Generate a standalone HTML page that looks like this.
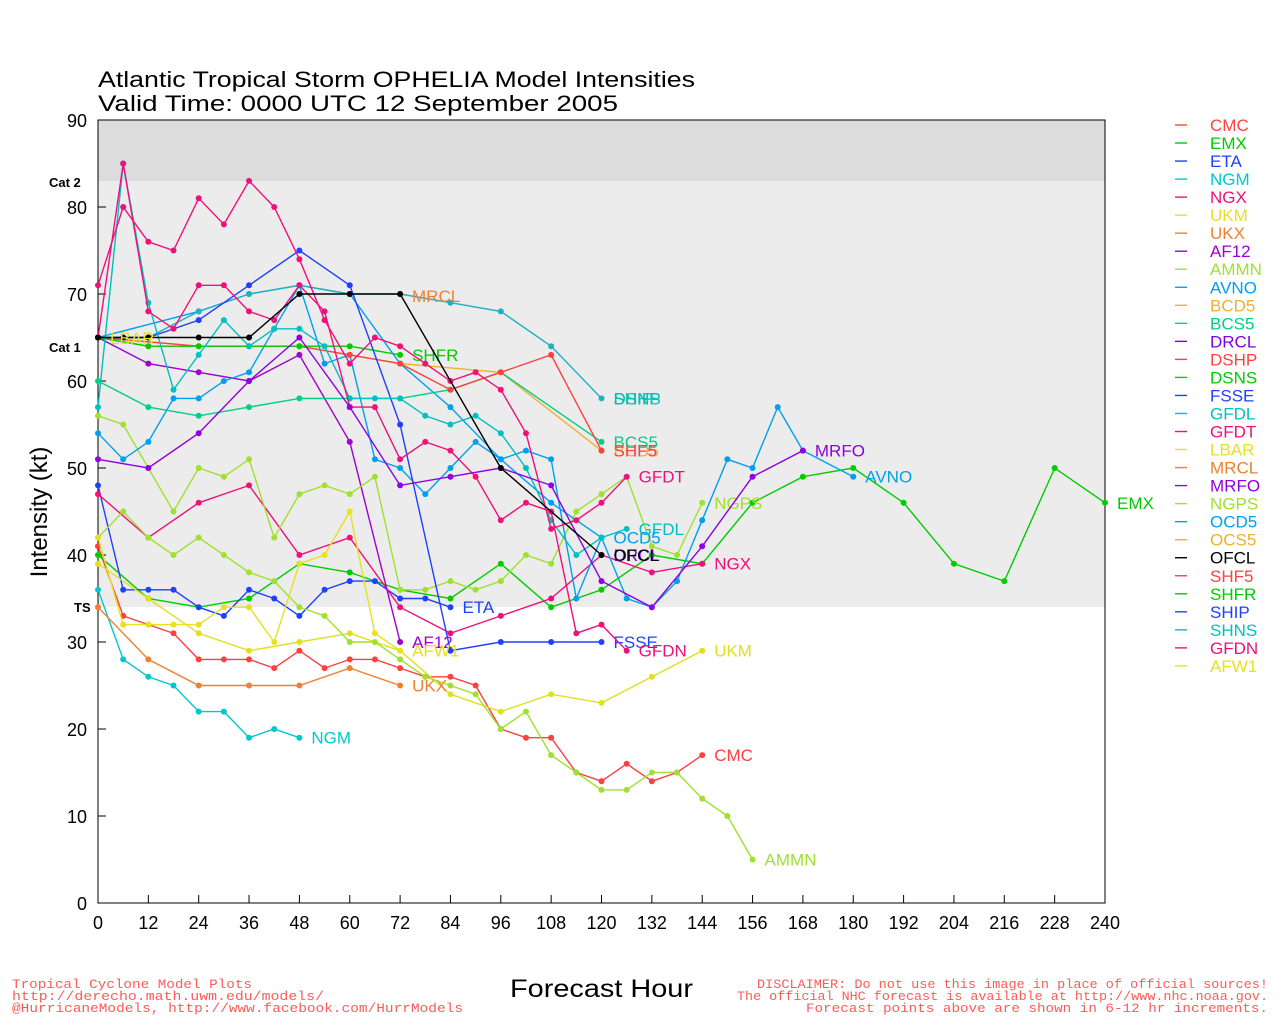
<!DOCTYPE html>
<html><head><meta charset="utf-8"><style>
html,body{margin:0;padding:0;background:#fff;width:1280px;height:1024px;overflow:hidden}
svg text{font-family:"Liberation Sans",sans-serif}
</style></head><body>
<svg id="s" width="1280" height="1024" xmlns="http://www.w3.org/2000/svg">
<rect x="98" y="120" width="1007" height="61" fill="#dcdcdc"/>
<rect x="98" y="181" width="1007" height="426" fill="#ececec"/>
<rect x="98" y="120" width="1007" height="783" fill="none" stroke="#000" stroke-width="1"/>
<text x="98" y="87" font-size="22" textLength="597" lengthAdjust="spacingAndGlyphs">Atlantic Tropical Storm OPHELIA Model Intensities</text>
<text x="98" y="111" font-size="22" textLength="520" lengthAdjust="spacingAndGlyphs">Valid Time: 0000 UTC 12 September 2005</text>
<text x="49" y="187" font-size="13" font-weight="bold">Cat 2</text>
<text x="49" y="352" font-size="13" font-weight="bold">Cat 1</text>
<text x="74" y="612" font-size="13" font-weight="bold">TS</text>
<text transform="translate(47,512) rotate(-90)" text-anchor="middle" font-size="24">Intensity (kt)</text>
<text x="510" y="997" font-size="25" textLength="183" lengthAdjust="spacingAndGlyphs">Forecast Hour</text>
<g fill="#ff5a5a" font-size="13">
<text x="12" y="988" style="font-family:'Liberation Mono',monospace" textLength="240" lengthAdjust="spacingAndGlyphs">Tropical Cyclone Model Plots</text>
<text x="12" y="1000" style="font-family:'Liberation Mono',monospace" textLength="312" lengthAdjust="spacingAndGlyphs">http://derecho.math.uwm.edu/models/</text>
<text x="12" y="1012" style="font-family:'Liberation Mono',monospace" textLength="451" lengthAdjust="spacingAndGlyphs">@HurricaneModels, http://www.facebook.com/HurrModels</text>
<text x="757" y="988" style="font-family:'Liberation Mono',monospace" textLength="511" lengthAdjust="spacingAndGlyphs">DISCLAIMER: Do not use this image in place of official sources!</text>
<text x="737" y="1000" style="font-family:'Liberation Mono',monospace" textLength="531" lengthAdjust="spacingAndGlyphs">The official NHC forecast is available at http://www.nhc.noaa.gov.</text>
<text x="806" y="1012" style="font-family:'Liberation Mono',monospace" textLength="462" lengthAdjust="spacingAndGlyphs">Forecast points above are shown in 6-12 hr increments.</text>
</g>
<g id="g"></g>
</svg>
<script>
var X=function(h){return 98+h*1007/240},Y=function(v){return 903-v*8.7};
var g=document.getElementById('g'),o='';
for(var v=0;v<=90;v+=10){o+='<line x1="98" x2="106" y1="'+Y(v)+'" y2="'+Y(v)+'" stroke="#000"/><text x="87" y="'+(Y(v)+7)+'" text-anchor="end" font-size="18">'+v+'</text>';}
for(var h=0;h<=240;h+=12){o+='<line x1="'+X(h)+'" x2="'+X(h)+'" y1="903" y2="895" stroke="#000"/><text x="'+X(h)+'" y="929" text-anchor="middle" font-size="18">'+h+'</text>';}
function S(c,d,lab,lh,lv){var p=[];for(var i=0;i<d.length;i+=2)p.push(X(d[i]).toFixed(1)+','+Y(d[i+1]).toFixed(1));
o+='<polyline points="'+p.join(' ')+'" fill="none" stroke="'+c+'" stroke-width="1.4"/>';
for(var i=0;i<d.length;i+=2)o+='<circle cx="'+X(d[i])+'" cy="'+Y(d[i+1])+'" r="3" fill="'+c+'"/>';
if(lab){var lx=lh===undefined?d[d.length-2]:lh,ly=lv===undefined?d[d.length-1]:lv;o+='<text x="'+(X(lx)+12)+'" y="'+(Y(ly)+6)+'" font-size="17" fill="'+c+'">'+lab+'</text>';}}
S('#ff4040',[0,41,6,33,12,32,18,31,24,28,30,28,36,28,42,27,48,29,54,27,60,28,66,28,72,27,78,26,84,26,90,25,96,20,102,19,108,19,114,15,120,14,126,16,132,14,138,15,144,17],'CMC');
S('#00cc00',[0,40,12,35,24,34,36,35,48,39,60,38,72,36,84,35,96,39,108,34,120,36,132,40,144,39,156,46,168,49,180,50,192,46,204,39,216,37,228,50,240,46],'EMX');
S('#2040ff',[0,48,6,36,12,36,18,36,24,34,30,33,36,36,42,35,48,33,54,36,60,37,66,37,72,35,78,35,84,34],'ETA');
S('#00c8d0',[0,36,6,28,12,26,18,25,24,22,30,22,36,19,42,20,48,19],'NGM');
S('#f0107a',[0,47,12,42,24,46,36,48,48,40,60,42,72,34,84,31,96,33,108,35,120,40,132,38,144,39],'NGX');
S('#e0e020',[0,39,12,35,24,31,36,29,48,30,60,31,72,29,84,24,96,22,108,24,120,23,132,26,144,29],'UKM');
S('#f08030',[0,34,12,28,24,25,36,25,48,25,60,27,72,25],'UKX');
S('#a000d0',[0,65,12,62,24,61,36,60,48,63,60,53,72,30],'AF12');
S('#a0e030',[0,42,6,45,12,42,18,40,24,42,30,40,36,38,42,37,48,34,54,33,60,30,66,30,72,28,78,26,84,25,90,24,96,20,102,22,108,17,114,15,120,13,126,13,132,15,138,15,144,12,150,10,156,5],'AMMN');
S('#a0e030',[0,56,6,55,12,50,18,45,24,50,30,49,36,51,42,42,48,47,54,48,60,47,66,49,72,36,78,36,84,37,90,36,96,37,102,40,108,39,114,45,120,47,126,49,132,41,138,40,144,46],'NGPS');
S('#00a0f0',[0,54,6,51,12,53,18,58,24,58,30,60,36,61,42,66,48,71,54,62,60,63,66,51,72,50,78,47,84,50,90,53,96,51,102,52,108,51,114,35,120,42,126,35,132,34,138,37,144,44,150,51,156,50,162,57,168,52,180,49],'AVNO');
S('#00a0f0',[0,65,24,68,36,70,48,71,60,70,72,62,84,57,96,51,108,46,120,42],'OCD5');
S('#f0b030',[0,65,12,64,36,64,48,64,60,63,72,62,96,61,120,52],'BCD5');
S('#00d080',[0,60,12,57,24,56,36,57,48,58,60,58,72,58,84,59,96,61,120,53],'BCS5');
S('#ff4040',[0,65,24,64,48,64,60,63,72,62,84,59,96,61,108,63,120,52],'SHF5');
S('#20b0c0',[0,65,12,65,24,68,36,70,48,71,60,70,72,70,84,69,96,68,108,64,120,58],'SHIP');
o+='<text x="'+(X(120)+12)+'" y="'+(Y(58)+6)+'" font-size="17" fill="#00c8a0">DSHP</text><text x="'+(X(120)+12)+'" y="'+(Y(58)+6)+'" font-size="17" fill="#00c0c0">SHNS</text>';
S('#00cc00',[0,65,12,64,24,64,36,64,48,64,60,64,72,63],'SHFR');
S('#2040ff',[0,65,12,65,24,67,36,71,48,75,60,71,72,55,84,29,96,30,108,30,120,30],'FSSE');
S('#00c0c0',[0,57,6,85,12,69,18,59,24,63,30,67,36,64,42,66,48,66,54,64,60,58,66,58,72,58,78,56,84,55,90,56,96,54,102,50,108,44,114,40,120,42,126,43],'GFDL');
S('#f0107a',[0,71,6,80,12,76,18,75,24,81,30,78,36,83,42,80,48,74,54,67,60,62,66,65,72,64,78,62,84,60,90,61,96,59,102,54,108,43,114,44,120,46,126,49],'GFDT');
S('#f0107a',[0,65,6,85,12,68,18,66,24,71,30,71,36,68,42,67,48,71,54,68,60,57,66,57,72,51,78,53,84,52,90,49,96,44,102,46,108,45,114,31,120,32,126,29],'GFDN');
S('#9000e0',[0,51,12,50,24,54,36,60,48,65,60,57,72,48,84,49,96,50,108,48,120,37,132,34,144,41,156,49,168,52],'MRFO');
S('#e8e020',[0,42,6,32,12,32,18,32,24,32,30,34,36,34,42,30,48,39,54,40,60,45,66,31,72,29],'AFW1');
o+='<text x="'+(X(120)+12)+'" y="'+(Y(40)+6)+'" font-size="17" fill="#8000e0">DRCL</text>';
S('#000000',[0,65,6,65,12,65,24,65,36,65,48,70,60,70,72,70,96,50,120,40],'OFCL');
o+='<text x="110" y="344" font-size="17" fill="#e8e020">LBAR</text><text x="412" y="302" font-size="17" fill="#f08030">MRCL</text>';
var L=[['CMC','#ff4040'],['EMX','#00cc00'],['ETA','#2040ff'],['NGM','#00c8d0'],['NGX','#f0107a'],['UKM','#e8e020'],['UKX','#f08030'],['AF12','#a000d0'],['AMMN','#a0e030'],['AVNO','#00a0f0'],['BCD5','#f0b030'],['BCS5','#00d080'],['DRCL','#8000e0'],['DSHP','#ff4040'],['DSNS','#00cc00'],['FSSE','#2040ff'],['GFDL','#00c0c0'],['GFDT','#f0107a'],['LBAR','#e8e020'],['MRCL','#f08030'],['MRFO','#9000e0'],['NGPS','#a0e030'],['OCD5','#00a0f0'],['OCS5','#f0b030'],['OFCL','#000000'],['SHF5','#ff4040'],['SHFR','#00cc00'],['SHIP','#2040ff'],['SHNS','#00c0c0'],['GFDN','#f0107a'],['AFW1','#e8e020']];
for(var i=0;i<L.length;i++){var y=125+i*18.03;o+='<line x1="1175" x2="1187" y1="'+y+'" y2="'+y+'" stroke="'+L[i][1]+'" stroke-width="1.4"/><text x="1210" y="'+(y+6)+'" font-size="17" fill="'+L[i][1]+'">'+L[i][0]+'</text>';}
g.innerHTML=o;
</script>
</body></html>
